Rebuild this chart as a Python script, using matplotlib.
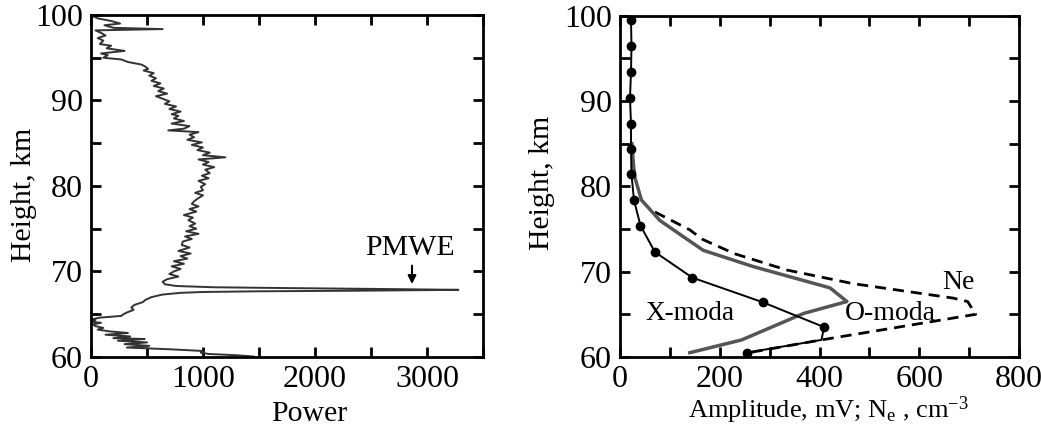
import numpy as np
import matplotlib.pyplot as plt
from matplotlib.ticker import MultipleLocator

plt.rcParams['font.family'] = ['Liberation Serif', 'DejaVu Serif']
plt.rcParams['mathtext.fontset'] = 'custom'
plt.rcParams['mathtext.rm'] = 'Liberation Serif'
plt.rcParams['mathtext.it'] = 'Liberation Serif:italic'

# left panel: radar power profile
power_height = [99.9, 99.6, 99.3, 99.0, 98.8, 98.5, 98.35, 98.2, 97.9, 97.6, 97.3, 97.0,
                96.6, 96.4, 96.1, 95.8, 95.5, 95.3, 95.0, 94.8, 94.5, 94.2, 94.0, 93.7,
                93.5, 93.2, 92.9, 92.6, 92.3, 92.0, 91.7, 91.4, 91.1, 90.8, 90.5, 90.2,
                89.9, 89.6, 89.3, 89.0, 88.7, 88.4, 88.2, 87.9, 87.6, 87.3, 87.0, 86.7,
                86.5, 86.3, 86.0, 85.7, 85.4, 85.1, 84.8, 84.5, 84.2, 83.9, 83.6, 83.35,
                83.1, 82.8, 82.5, 82.2, 81.9, 81.5, 81.2, 80.9, 80.6, 80.2, 79.9, 79.5,
                79.2, 78.9, 78.5, 78.2, 77.9, 77.6, 77.3, 77.0, 76.6, 76.3, 76.0, 75.6,
                75.3, 75.0, 74.7, 74.4, 74.1, 73.8, 73.5, 73.1, 72.8, 72.4, 72.1, 71.8,
                71.5, 71.2, 70.9, 70.6, 70.3, 70.0, 69.7, 69.4, 69.1, 68.8, 68.5, 68.3,
                68.15, 68.05, 67.95, 67.85, 67.75, 67.68, 67.6, 67.5, 67.3, 67.0, 66.7,
                66.4, 66.1, 65.8, 65.5, 65.2, 65.0, 64.8, 64.6, 64.4, 64.3, 64.1, 64.0,
                63.8, 63.6, 63.4, 63.2, 63.0, 62.8, 62.6, 62.4, 62.2, 62.1, 61.9, 61.7,
                61.5, 61.3, 61.1, 60.9, 60.7, 60.5, 60.35, 60.2, 60.05]
power = [10, 60, 180, 260, 120, 200, 640, 40, 90, 130, 60, 110,
         80, 180, 140, 300, 90, 150, 110, 270, 330, 450, 480, 510,
         470, 560, 520, 580, 540, 620, 560, 650, 600, 680, 580, 640,
         700, 660, 760, 700, 800, 720, 780, 740, 830, 720, 880, 830,
         690, 960, 880, 920, 860, 990, 900, 1000, 950, 1060, 1000, 1200,
         960, 1050, 1000, 1100, 1020, 1060, 990, 1050, 960, 1020, 980, 1000,
         930, 1000, 950, 920, 900, 960, 880, 940, 830, 910, 870, 930,
         880, 940, 850, 960, 840, 900, 820, 810, 880, 780, 890, 800,
         860, 740, 830, 720, 800, 740, 700, 780, 680, 640, 660, 760,
         1100, 1800, 2600, 3280, 2400, 1500, 1000, 800, 640, 540, 490,
         460, 390, 360, 380, 320, 290, 270, 80, 10, 40, 0, 90,
         20, 40, 110, 60, 160, 330, 130, 350, 200, 480, 240, 500,
         300, 520, 320, 700, 1000, 980, 1050, 1300, 1450]

# right panel
x_height = [99.5, 96.5, 93.4, 90.4, 87.3, 84.4, 81.4, 78.4, 75.4, 72.3, 69.3, 66.4, 63.5, 62.0, 60.5]
x_amp = [22, 23, 22, 20, 22, 22, 23, 28, 41, 70, 145, 287, 409, 404, 254]
o_height = [85.0, 82.5, 81.0, 78.4, 76.0, 74.1, 72.5, 70.6, 68.1, 66.5, 65.1, 62.0, 60.5]
o_amp = [24, 27, 30, 43, 80, 127, 167, 267, 421, 455, 368, 244, 140]
ne_height = [77.0, 74.9, 73.8, 72.1, 70.2, 68.6, 66.9, 66.5, 65.0, 62.0, 60.5]
ne_val = [70, 140, 165, 230, 334, 467, 668, 697, 713, 404, 258]

fig = plt.figure(figsize=(10.41, 4.28), dpi=100)
ax1 = fig.add_axes([0.0874, 0.166, 0.3766, 0.799])
ax2 = fig.add_axes([0.5956, 0.166, 0.3833, 0.797])

for ax in (ax1, ax2):
    ax.set_ylim(60, 100)
    ax.yaxis.set_major_locator(MultipleLocator(10))
    ax.yaxis.set_minor_locator(MultipleLocator(5))
    ax.tick_params(which='both', direction='in', top=True, right=True,
                   length=7, width=2, labelsize=23, pad=6)
    for s in ax.spines.values():
        s.set_linewidth(2)
    ax.set_ylabel('Height, km', fontsize=21.5)

ax1.plot(power, power_height, color='#333333', lw=1.4)
ax1.set_xlim(0, 3500)
ax1.xaxis.set_major_locator(MultipleLocator(1000))
ax1.xaxis.set_minor_locator(MultipleLocator(500))
ax1.set_xlabel('Power', fontsize=21.5)
ax1.xaxis.set_label_coords(0.556, -0.13)
ax1.yaxis.set_label_coords(-0.137, 0.474)
ax1.text(2850, 72.75, 'PMWE', fontsize=21.5, ha='center', va='center')
ax1.annotate('', xy=(2866, 68.2), xytext=(2866, 71.0),
             arrowprops=dict(arrowstyle='-|>', color='black', lw=1.5, mutation_scale=12))

ax2.plot(ne_val, ne_height, color='black', lw=2, ls=(0, (4, 2.5)))
ax2.plot(o_amp, o_height, color='#555555', lw=2.5)
ax2.plot(x_amp, x_height, color='black', lw=1.4, marker='o', ms=6,
         markevery=[i for i in range(len(x_amp)) if i != 13])
ax2.set_xlim(0, 800)
ax2.xaxis.set_major_locator(MultipleLocator(200))
ax2.xaxis.set_minor_locator(MultipleLocator(100))
ax2.set_xlabel('Amplitude, mV; N$_\\mathregular{e}$ , cm$^\\mathregular{-3}$', fontsize=19)
ax2.xaxis.set_label_coords(0.523, -0.11)
ax2.yaxis.set_label_coords(-0.163, 0.51)
ax2.text(50, 65.1, 'X-moda', fontsize=19.5, ha='left', va='center')
ax2.text(451, 65.1, 'O-moda', fontsize=20, ha='left', va='center')
ax2.text(678, 68.7, 'Ne', fontsize=20, ha='center', va='center')

fig.savefig('out.png', dpi=100)
